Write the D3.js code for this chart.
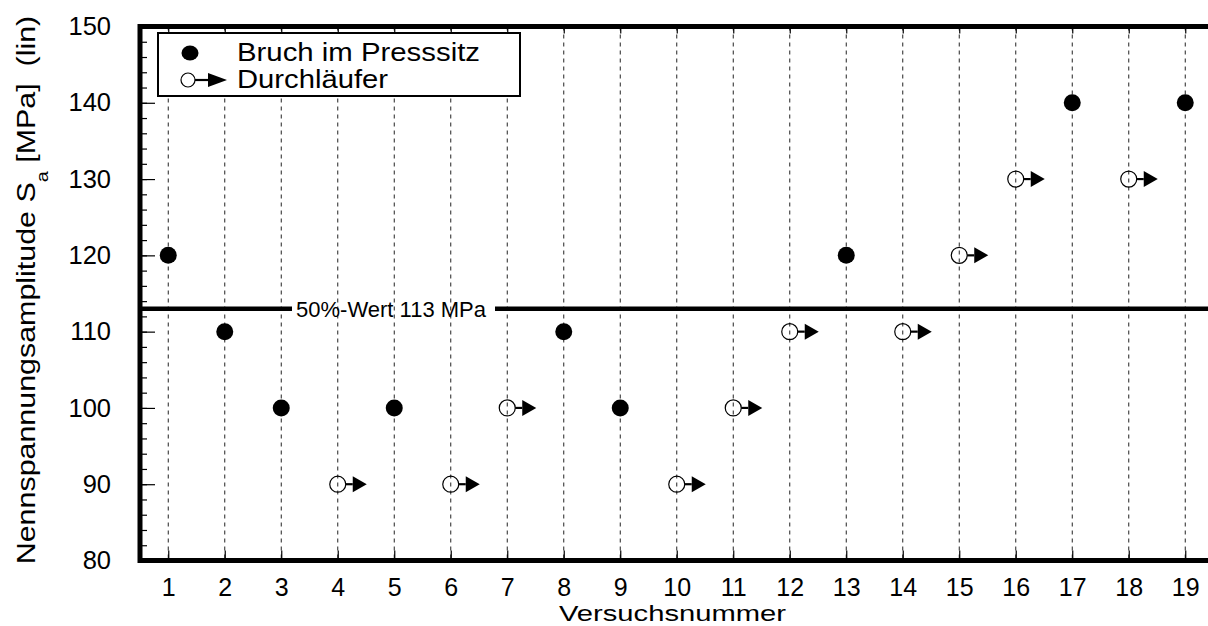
<!DOCTYPE html>
<html>
<head>
<meta charset="utf-8">
<script src="https://cdn.jsdelivr.net/npm/d3@7"></script>
<style>
  html, body { margin: 0; padding: 0; background: #fff; }
  svg { display: block; font-family: "Liberation Sans", Arial, Helvetica, sans-serif; }
</style>
</head>
<body>
<svg id="chart" width="1208" height="626"></svg>
<script>
// Staircase test: specimen number, stress amplitude, outcome
const specimens = d3.range(1, 20);
const amplitudes = [120, 110, 100, 90, 100, 90, 100, 110, 100, 90, 100, 110, 120, 110, 120, 130, 140, 130, 140];
const outcomes = ["B", "B", "B", "D", "B", "D", "D", "B", "B", "D", "D", "D", "B", "D", "D", "D", "B", "D", "B"];
const majorTicks = [80, 90, 100, 110, 120, 130, 140, 150];
const minorTicks = d3.range(80, 151, 2);
const median = 113;
const legendLabels = ["Bruch im Presssitz", "Durchläufer"];

const svg = d3.select("#chart");
const x = d3.scaleLinear().domain([0.5, 19.5]).range([140, 1213.5]);
const y = d3.scaleLinear().domain([80, 150]).range([560.5, 26.5]);
const plotLeft = x.range()[0], plotTop = y.range()[1], plotBottom = y.range()[0], plotRight = 1208;

// vertical dashed grid
svg.append("g").selectAll("line").data(specimens).join("line")
  .attr("x1", d => x(d)).attr("x2", d => x(d))
  .attr("y1", plotTop).attr("y2", plotBottom)
  .attr("stroke", "#222").attr("stroke-width", 1)
  .attr("stroke-dasharray", "4,4");

// bottom axis (ticks point inward)
const xAxis = svg.append("g").attr("transform", `translate(0,${plotBottom})`)
  .call(d3.axisBottom(x).tickValues(specimens).tickSize(-10).tickPadding(17.8));
// top axis, ticks only
const xTop = svg.append("g").attr("transform", `translate(0,${plotTop})`)
  .call(d3.axisTop(x).tickValues(specimens).tickSize(-7).tickFormat(""));
// left axis: minor and major ticks
const yMinor = svg.append("g").attr("transform", `translate(${plotLeft},0)`)
  .call(d3.axisLeft(y).tickValues(minorTicks).tickSize(-7).tickFormat(""));
const yAxis = svg.append("g").attr("transform", `translate(${plotLeft},0)`)
  .call(d3.axisLeft(y).tickValues(majorTicks).tickSize(-15).tickPadding(29).tickFormat(d3.format("d")));

[xAxis, xTop, yMinor, yAxis].forEach(g => {
  g.select(".domain").remove();
  g.selectAll(".tick line").attr("stroke", "#000").attr("stroke-width", 1.2);
  g.selectAll("text").attr("font-size", 25.5).attr("fill", "#000")
    .attr("font-family", "Liberation Sans, Arial, sans-serif");
});
xAxis.selectAll("text").attr("font-size", 25);

// 50% value line with label gap
const yMed = y(median);
svg.append("line").attr("x1", plotLeft).attr("x2", 292).attr("y1", yMed).attr("y2", yMed)
  .attr("stroke", "#000").attr("stroke-width", 4.5);
svg.append("line").attr("x1", 495).attr("x2", plotRight).attr("y1", yMed).attr("y2", yMed)
  .attr("stroke", "#000").attr("stroke-width", 4.5);
svg.append("text").attr("x", 391).attr("y", yMed + 8).attr("text-anchor", "middle")
  .attr("font-size", 22).text(`50%-Wert ${median} MPa`);

// frame (left, top, bottom)
svg.append("path")
  .attr("d", `M${plotRight},${plotTop}H${plotLeft}V${plotBottom}H${plotRight}`)
  .attr("fill", "none").attr("stroke", "#000").attr("stroke-width", 5);

// runout marker: open circle with arrow
function runout(g, cx, cy, r, base, tip, half) {
  g.append("circle").attr("cx", cx).attr("cy", cy).attr("r", r)
    .attr("fill", "none").attr("stroke", "#000").attr("stroke-width", 1.2);
  g.append("line").attr("x1", cx + r).attr("x2", cx + base).attr("y1", cy).attr("y2", cy)
    .attr("stroke", "#000").attr("stroke-width", 2.2);
  g.append("path")
    .attr("d", `M${cx + base},${cy - half}L${cx + tip},${cy}L${cx + base},${cy + half}Z`)
    .attr("fill", "#000");
}

const data = specimens.map((s, i) => ({ s, a: amplitudes[i], o: outcomes[i] }));
const marks = svg.append("g");
data.forEach(d => {
  if (d.o === "B") {
    marks.append("circle").attr("cx", x(d.s)).attr("cy", y(d.a)).attr("r", 8.5).attr("fill", "#000");
  } else {
    runout(marks, x(d.s), y(d.a), 8, 15, 29, 8);
  }
});

// legend
const lg = svg.append("g");
lg.append("rect").attr("x", 158).attr("y", 33).attr("width", 362).attr("height", 63)
  .attr("fill", "#fff").attr("stroke", "#000").attr("stroke-width", 2);
lg.append("ellipse").attr("cx", 190).attr("cy", 53).attr("rx", 8.5).attr("ry", 7.5).attr("fill", "#000");
runout(lg, 188, 80, 7, 20, 39, 7);
lg.append("text").attr("x", 237).attr("y", 61).attr("font-size", 25)
  .attr("textLength", 243).attr("lengthAdjust", "spacingAndGlyphs").text(legendLabels[0]);
lg.append("text").attr("x", 237).attr("y", 88).attr("font-size", 25)
  .attr("textLength", 151).attr("lengthAdjust", "spacingAndGlyphs").text(legendLabels[1]);

// axis titles
svg.append("text").attr("x", 559).attr("y", 620.8).attr("font-size", 22.5)
  .attr("textLength", 227).attr("lengthAdjust", "spacingAndGlyphs").text("Versuchsnummer");

const yt = svg.append("text")
  .attr("transform", "translate(35,290) rotate(-90) scale(1.17,1)")
  .attr("text-anchor", "middle").attr("font-size", 26);
yt.append("tspan").text("Nennspannungsamplitude S");
yt.append("tspan").attr("font-size", 17).attr("dy", 13).text("a");
yt.append("tspan").attr("dy", -13).text(" [MPa]\u00a0\u00a0(lin)");
</script>
</body>
</html>
